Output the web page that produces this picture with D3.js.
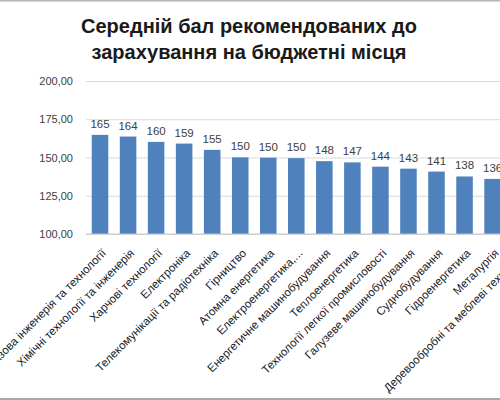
<!DOCTYPE html>
<html>
<head>
<meta charset="utf-8">
<script src="https://cdn.jsdelivr.net/npm/d3@7"></script>
<style>
  body { margin: 0; background: #fff; }
  svg { display: block; font-family: "Liberation Sans", Arial, sans-serif; }
</style>
</head>
<body>
<svg id="chart"></svg>
<script>
var categories = [
  "Нафтогазова інженерія та технології",
  "Хімічні технології та інженерія",
  "Харчові технології",
  "Електроніка",
  "Телекомунікації та радіотехніка",
  "Гірництво",
  "Атомна енергетика",
  "Електроенергетика,...",
  "Енергетичне машинобудування",
  "Теплоенергетика",
  "Технології легкої промисловості",
  "Галузеве машинобудування",
  "Суднобудування",
  "Гідроенергетика",
  "Металургія",
  "Деревообробні та меблеві технології"
];
var values = [164.8, 163.7, 160.2, 159.1, 155.0, 150.1, 149.9, 149.6, 147.6, 146.8, 144.0, 142.7, 140.8, 137.6, 136.0, 134.0];
var yTicks = [100, 125, 150, 175, 200];
var titleLines = ["Середній бал рекомендованих до", "зарахування на бюджетні місця"];

var w = 500, h = 400;
var plotLeft = 86, plotTop = 81, plotBottom = 234, step = 28.04;

var svg = d3.select("#chart").attr("width", w).attr("height", h);

var x = d3.scaleBand()
  .domain(categories)
  .range([plotLeft, plotLeft + categories.length * step])
  .paddingInner(0.41)
  .paddingOuter(0.205);

var y = d3.scaleLinear().domain([100, 200]).range([plotBottom, plotTop]);

// frame lines
svg.append("line").attr("x1", 0).attr("x2", w).attr("y1", 0.5).attr("y2", 0.5)
  .style("stroke", "#b4b4b4").style("stroke-width", 2);
svg.append("line").attr("x1", 0).attr("x2", w).attr("y1", 399).attr("y2", 399)
  .style("stroke", "#a8a8a8").style("stroke-width", 2);

// title
svg.append("text")
  .attr("x", 249)
  .attr("text-anchor", "middle")
  .style("font-weight", "bold")
  .style("font-size", "20px")
  .style("fill", "#1a1a1a")
  .selectAll("tspan")
  .data(titleLines)
  .enter().append("tspan")
  .attr("x", 249)
  .attr("y", function(d, i) { return 33 + i * 26; })
  .text(function(d) { return d; });

// y axis + gridlines
var yAxis = svg.append("g")
  .attr("transform", "translate(" + plotLeft + ",0)")
  .call(d3.axisLeft(y)
    .tickValues(yTicks)
    .tickSizeInner(-(w - plotLeft + 50))
    .tickSizeOuter(0)
    .tickPadding(13)
    .tickFormat(function(d) { return d3.format(".2f")(d).replace(".", ","); }));
yAxis.select(".domain").remove();
yAxis.selectAll(".tick line").style("stroke", "#d9d9d9");
yAxis.selectAll(".tick text").style("font-size", "11px").style("fill", "#404040");

// bars
svg.selectAll("rect.bar")
  .data(values)
  .enter().append("rect")
  .attr("class", "bar")
  .attr("x", function(d, i) { return x(categories[i]); })
  .attr("width", x.bandwidth())
  .attr("y", function(d) { return y(d); })
  .attr("height", function(d) { return plotBottom - y(d); })
  .style("fill", "#4f81bd");

// value labels
svg.selectAll("text.val")
  .data(values)
  .enter().append("text")
  .attr("class", "val")
  .attr("x", function(d, i) { return x(categories[i]) + x.bandwidth() / 2; })
  .attr("y", function(d) { return y(d) - 7; })
  .attr("text-anchor", "middle")
  .style("font-size", "11.5px")
  .style("fill", "#404040")
  .text(function(d) { return d3.format(".0f")(d); });

// x axis
svg.append("line")
  .attr("x1", plotLeft).attr("x2", w + 50)
  .attr("y1", plotBottom).attr("y2", plotBottom)
  .style("stroke", "#c8c8c8");

var xAxis = svg.append("g")
  .attr("transform", "translate(0," + plotBottom + ")")
  .call(d3.axisBottom(x).tickSize(0).tickPadding(0));
xAxis.select(".domain").remove();
xAxis.selectAll(".tick text")
  .attr("y", 0)
  .attr("dy", "0.35em")
  .attr("text-anchor", "end")
  .attr("transform", "translate(4,17) rotate(-45)")
  .style("font-size", "11.5px")
  .style("fill", "#1a1a1a");
</script>
</body>
</html>
